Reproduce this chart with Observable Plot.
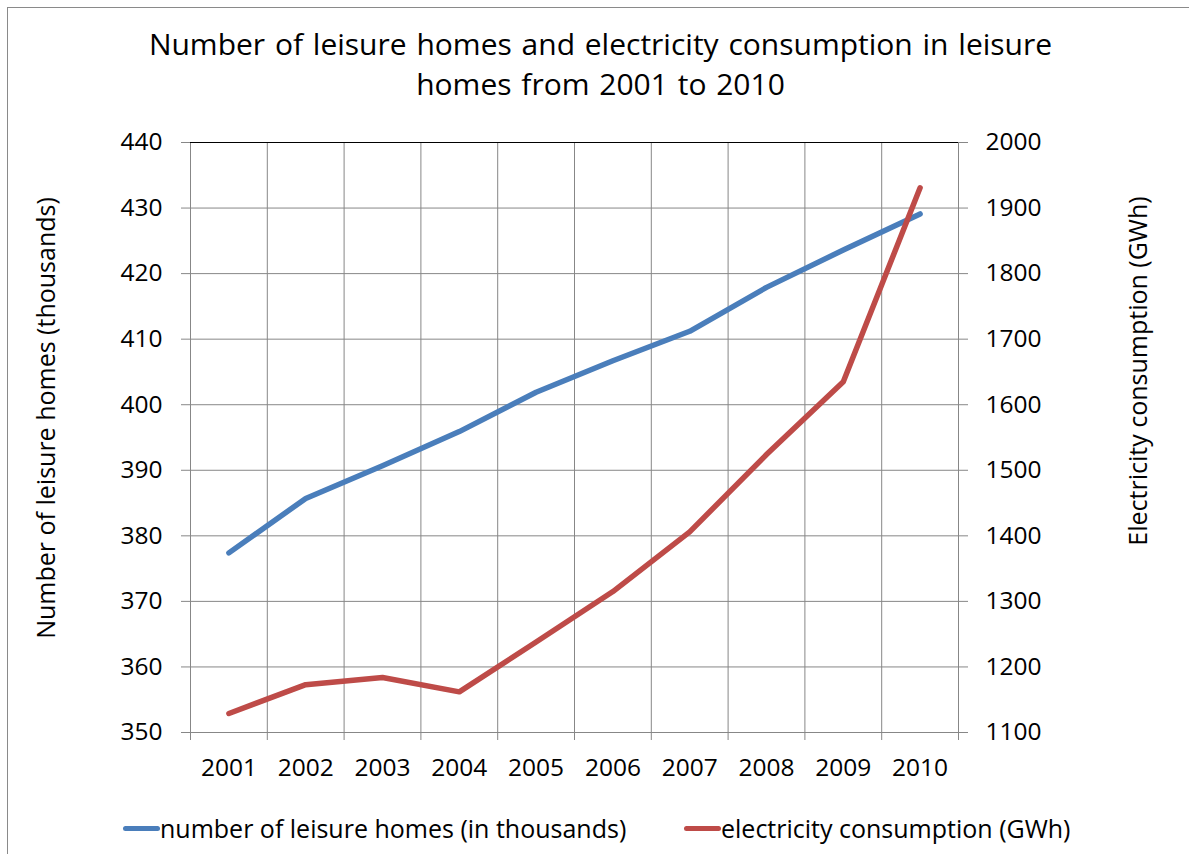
<!DOCTYPE html>
<html>
<head>
<meta charset="utf-8">
<script src="https://cdn.jsdelivr.net/npm/d3@7"></script>
<script src="https://cdn.jsdelivr.net/npm/@observablehq/plot@0.6"></script>
<style>
  html, body { margin: 0; padding: 0; background: #fff; }
  body { width: 1189px; height: 854px; overflow: hidden; position: relative; font-family: "Open Sans", Lato, sans-serif; color: #000; }
  #frame { position: absolute; left: 7px; top: 7px; width: 1300px; height: 1000px; border: 1px solid #8a8a8a; box-sizing: border-box; }
  #title { position: absolute; left: 0; width: 1201px; top: 24px; text-align: center; font-size: 30px; line-height: 40px; word-spacing: 2px; }
  .axis-title { position: absolute; font-size: 25px; white-space: nowrap; transform: translate(-50%, -50%) rotate(-90deg); }
  #chart { position: absolute; left: 0; top: 110px; width: 1189px; height: 680px; }
  #chart svg { position: absolute; left: 0; top: 0; }
  .legend-item { position: absolute; top: 813px; font-size: 25px; line-height: 30px; white-space: nowrap; display: flex; align-items: center; }
  .swatch { display: inline-block; width: 37px; height: 5px; border-radius: 3px; }
</style>
</head>
<body>
<div id="frame"></div>
<div id="title">Number of leisure homes and electricity consumption in leisure<br>homes from 2001 to 2010</div>
<div class="axis-title" style="left:45px; top:418px;">Number of leisure homes (thousands)</div>
<div class="axis-title" style="left:1137px; top:371px;">Electricity consumption (GWh)</div>
<div id="chart"></div>
<div class="legend-item" style="left:123px;"><span class="swatch" style="background:#4a7ebb"></span><span>number of leisure homes (in thousands)</span></div>
<div class="legend-item" style="left:684px;"><span class="swatch" style="background:#be4b48"></span><span>electricity consumption (GWh)</span></div>
<script>
// Yearly series
const years = [2001, 2002, 2003, 2004, 2005, 2006, 2007, 2008, 2009, 2010];
const leisureHomes = [377.4, 385.7, 390.7, 395.9, 401.9, 406.7, 411.2, 417.9, 423.6, 429.1];
const electricity = [1129, 1173, 1184, 1162, 1238, 1315, 1406, 1524, 1635, 1931];

// Axis ticks
const leftTicks = [350, 360, 370, 380, 390, 400, 410, 420, 430, 440];
const rightTicks = [1100, 1200, 1300, 1400, 1500, 1600, 1700, 1800, 1900, 2000];

// Category boundaries: each year sits in the middle of its own band
const edges = years.map(y => y - 0.5).concat([years[years.length - 1] + 0.5]);

const homesData = years.map((year, i) => ({year, value: leisureHomes[i]}));
const elecData = years.map((year, i) => ({year, value: electricity[i]}));

const grid = "#878787";
const tickFont = 24.5;
const frameOpts = {
  width: 1189,
  height: 680,
  marginLeft: 190,
  marginRight: 231,
  marginTop: 32,
  marginBottom: 58,
  x: {domain: [edges[0], edges[edges.length - 1]], axis: null}
};
const fontStyle = {fontFamily: "'Open Sans', Lato, sans-serif", fontSize: tickFont + "px", color: "#000", background: "transparent"};

const base = Plot.plot({
  ...frameOpts,
  style: fontStyle,
  y: {domain: [leftTicks[0], leftTicks[leftTicks.length - 1]], axis: null},
  marks: [
    Plot.ruleY(leftTicks, {stroke: grid, strokeWidth: 1}),
    Plot.ruleX(edges, {stroke: grid, strokeWidth: 1}),
    Plot.ruleY([leftTicks[leftTicks.length - 1]], {stroke: "#000", strokeWidth: 1}),
    Plot.axisY({ticks: leftTicks, tickSize: 9, tickPadding: 19, stroke: grid, fill: "#000", label: null, fontSize: tickFont, tickFormat: d => String(d)}),
    Plot.axisX({ticks: edges, tickSize: 8, tickFormat: () => "", stroke: grid, label: null}),
    Plot.axisX({ticks: years, tickSize: 0, tickPadding: 26, tickFormat: d => String(d), fill: "#000", label: null, fontSize: tickFont}),
    Plot.lineY(homesData, {x: "year", y: "value", stroke: "#4a7ebb", strokeWidth: 5.5, strokeLinecap: "round", strokeLinejoin: "round"})
  ]
});

const overlay = Plot.plot({
  ...frameOpts,
  style: fontStyle,
  y: {domain: [rightTicks[0], rightTicks[rightTicks.length - 1]], axis: null},
  marks: [
    Plot.axisY({anchor: "right", ticks: rightTicks, tickSize: 9, tickPadding: 18, stroke: grid, fill: "#000", label: null, fontSize: tickFont, tickFormat: d => String(d)}),
    Plot.lineY(elecData, {x: "year", y: "value", stroke: "#be4b48", strokeWidth: 5.5, strokeLinecap: "round", strokeLinejoin: "round"})
  ]
});

const chart = document.getElementById("chart");
chart.append(base, overlay);
</script>
</body>
</html>
